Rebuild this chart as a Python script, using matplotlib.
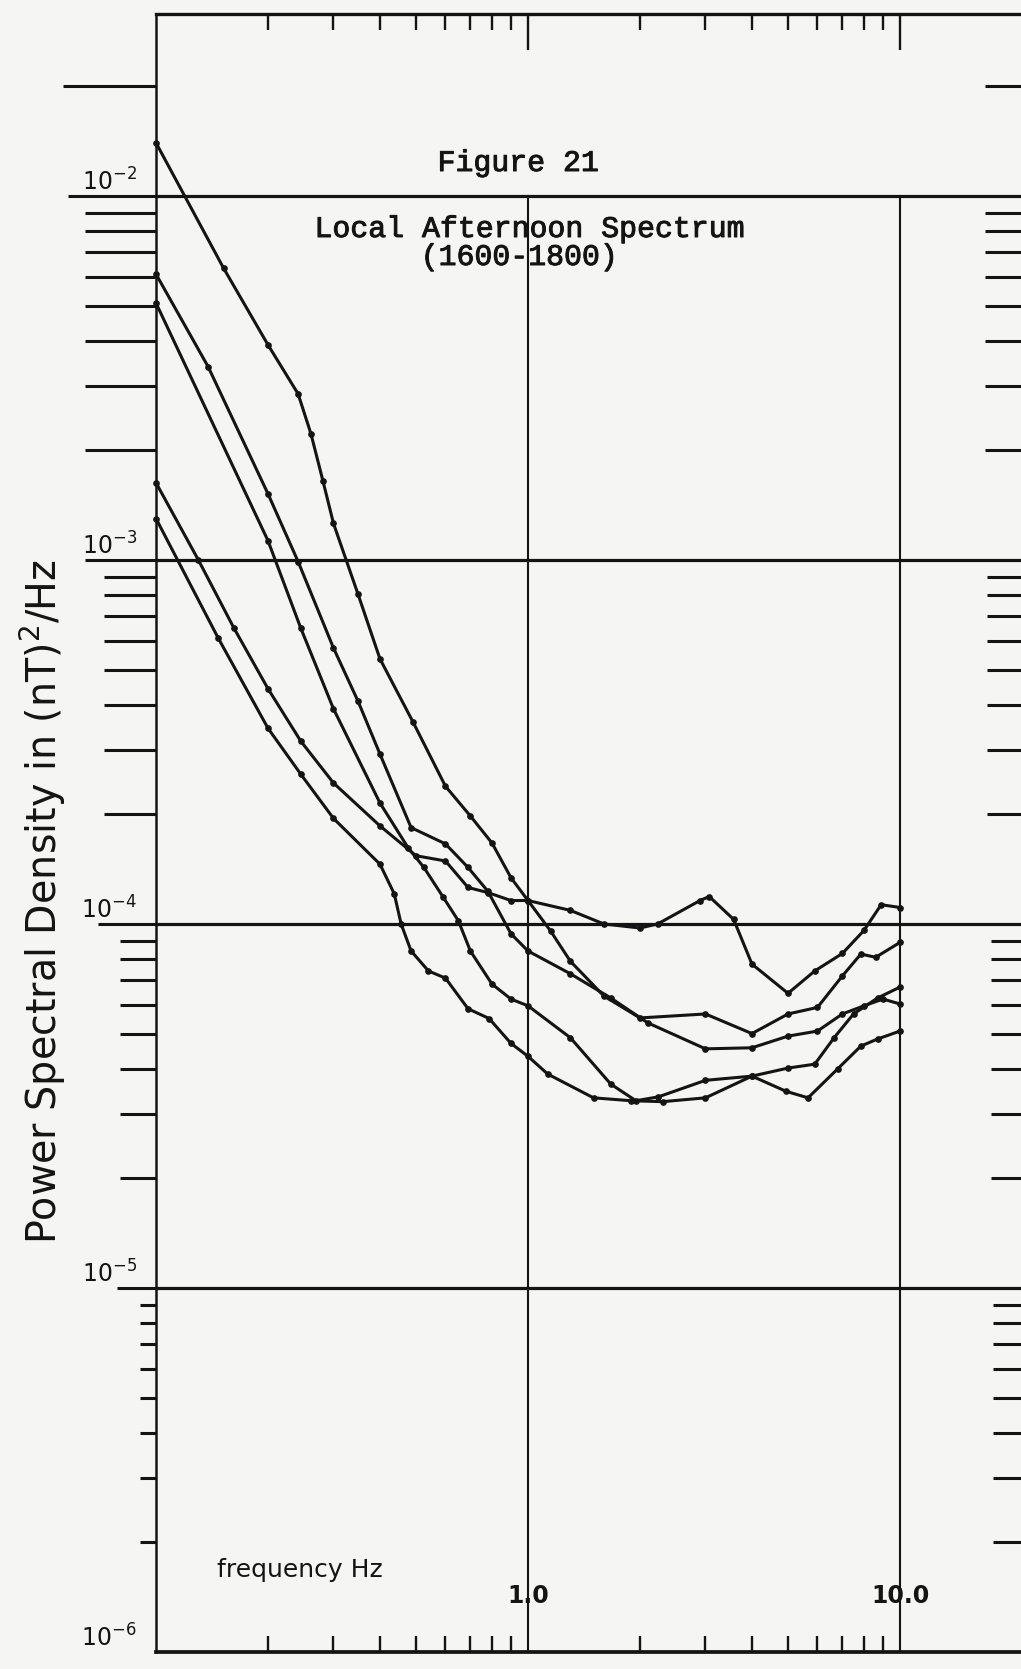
import numpy as np
import matplotlib
matplotlib.use("Agg")
import matplotlib.pyplot as plt
import matplotlib.lines as mlines
import matplotlib.transforms as mtransforms
import matplotlib.patheffects as pe
from matplotlib.ticker import FixedLocator, NullFormatter

# ---------------- data ----------------
A_freq = [0.1, 0.152, 0.2, 0.241, 0.261, 0.281, 0.3, 0.349, 0.4, 0.49, 0.6, 0.7, 0.8,
          0.9, 1.0, 1.15, 1.3, 1.6, 2.0, 3.0, 4.0, 5.0, 6.0, 7.0, 7.85, 8.6, 10.0]
A_psd = [1.40e-2, 6.33e-3, 3.9e-3, 2.86e-3, 2.22e-3, 1.65e-3, 1.26e-3, 8.07e-4, 5.35e-4,
         3.6e-4, 2.39e-4, 1.98e-4, 1.67e-4, 1.34e-4, 1.16e-4, 9.57e-5, 7.9e-5, 6.34e-5,
         5.52e-5, 5.66e-5, 5.0e-5, 5.66e-5, 5.9e-5, 7.2e-5, 8.27e-5, 8.1e-5, 8.9e-5]

B_freq = [0.1, 0.138, 0.2, 0.241, 0.3, 0.349, 0.4, 0.485, 0.6, 0.69, 0.78, 0.9, 1.0,
          1.3, 1.67, 2.1, 3.0, 4.0, 5.0, 6.0, 7.0, 8.0, 9.0, 10.0]
B_psd = [6.1e-3, 3.4e-3, 1.52e-3, 9.9e-4, 5.73e-4, 4.1e-4, 2.93e-4, 1.84e-4, 1.66e-4,
         1.43e-4, 1.23e-4, 9.4e-5, 8.43e-5, 7.3e-5, 6.26e-5, 5.35e-5, 4.54e-5, 4.57e-5,
         4.92e-5, 5.08e-5, 5.66e-5, 5.96e-5, 6.22e-5, 6.03e-5]

C_freq = [0.1, 0.2, 0.245, 0.3, 0.4, 0.476, 0.525, 0.59, 0.65, 0.7, 0.8, 0.9, 1.0,
          1.3, 1.67, 1.95, 2.24, 3.0, 4.0, 5.0, 5.9, 6.65, 7.5, 8.7, 10.0]
C_psd = [5.08e-3, 1.13e-3, 6.5e-4, 3.9e-4, 2.15e-4, 1.62e-4, 1.43e-4, 1.19e-4, 1.02e-4,
         8.43e-5, 6.84e-5, 6.22e-5, 5.96e-5, 4.87e-5, 3.63e-5, 3.27e-5, 3.35e-5, 3.72e-5,
         3.82e-5, 4.02e-5, 4.12e-5, 4.87e-5, 5.66e-5, 6.26e-5, 6.71e-5]

D_freq = [0.1, 0.13, 0.162, 0.2, 0.245, 0.3, 0.4, 0.5, 0.6, 0.69, 0.78, 0.9, 1.0, 1.3,
          1.6, 2.0, 2.23, 2.9, 3.07, 3.57, 4.0, 5.0, 5.9, 7.0, 8.0, 8.9, 10.0]
D_psd = [1.63e-3, 1.0e-3, 6.5e-4, 4.43e-4, 3.18e-4, 2.44e-4, 1.86e-4, 1.54e-4, 1.49e-4,
         1.26e-4, 1.22e-4, 1.16e-4, 1.16e-4, 1.09e-4, 1.0e-4, 9.75e-5, 1.0e-4, 1.16e-4,
         1.19e-4, 1.03e-4, 7.76e-5, 6.45e-5, 7.43e-5, 8.3e-5, 9.6e-5, 1.13e-4, 1.11e-4]

E_freq = [0.1, 0.147, 0.2, 0.245, 0.3, 0.4, 0.437, 0.456, 0.485, 0.54, 0.6, 0.69, 0.786,
          0.9, 1.0, 1.13, 1.5, 1.89, 2.3, 3.0, 4.0, 4.94, 5.66, 6.8, 7.85, 8.7, 10.0]
E_psd = [1.30e-3, 6.1e-4, 3.45e-4, 2.58e-4, 1.95e-4, 1.46e-4, 1.21e-4, 1.0e-4, 8.43e-5,
         7.43e-5, 7.1e-5, 5.85e-5, 5.5e-5, 4.7e-5, 4.33e-5, 3.87e-5, 3.33e-5, 3.27e-5,
         3.25e-5, 3.33e-5, 3.82e-5, 3.47e-5, 3.33e-5, 4.0e-5, 4.62e-5, 4.83e-5, 5.08e-5]

xtick_major = [1.0, 10.0]
xtick_labels = ["1.0", "10.0"]
x_minor = [0.2, 0.3, 0.4, 0.5, 0.6, 0.7, 0.8, 0.9, 2, 3, 4, 5, 6, 7, 8, 9]
ytick_major = [1e-6, 1e-5, 1e-4, 1e-3, 1e-2]
ytick_labels = [r"$10^{-6}$", r"$10^{-5}$", r"$10^{-4}$", r"$10^{-3}$", r"$10^{-2}$"]
y_minor = [k * 10.0 ** e for e in (-6, -5, -4, -3) for k in range(2, 10)] + [2e-2]

title_lines = ["Figure 21", "Local Afternoon Spectrum", "(1600-1800)"]
ylabel_text = "Power Spectral Density in (nT)$^2$/Hz"
xlabel_text = "frequency Hz"

# ---------------- figure ----------------
W, H, DPI = 1021, 1669, 100
fig = plt.figure(figsize=(W / DPI, H / DPI), dpi=DPI)
bg = "#f5f5f4"
ink = "#141414"
fig.patch.set_facecolor(bg)

L, R, T, B = 156, 1023, 14, 1652          # axes box in pixels
ax = fig.add_axes([L / W, 1 - B / H, (R - L) / W, (B - T) / H])
ax.set_facecolor(bg)
ax.set_xscale("log")
ax.set_yscale("log")
ax.set_xlim(0.1, 0.1 * 10 ** ((R - L) / 372.0))
ax.set_ylim(1e-6, 10 ** -1.5)

# curves
for f, v in [(A_freq, A_psd), (B_freq, B_psd), (C_freq, C_psd), (D_freq, D_psd), (E_freq, E_psd)]:
    ax.plot(f, v, color=ink, lw=2.2, marker="o", ms=3.8, mfc=ink, mec=ink,
            solid_joinstyle="round", solid_capstyle="round", zorder=3, clip_on=False)

# grid lines
for yv in ytick_major[1:]:
    ax.axhline(yv, color=ink, lw=2.3, zorder=2)
ylo, yhi = ax.get_ylim()
top_frac = (np.log10(1e-2) - np.log10(ylo)) / (np.log10(yhi) - np.log10(ylo))
for xv in xtick_major:
    ax.axvline(xv, ymin=0, ymax=top_frac, color=ink, lw=1.5, zorder=2)

# spines
ax.spines["right"].set_visible(False)
ax.spines["left"].set_linewidth(1.8)
ax.spines["top"].set_linewidth(2.4)
ax.spines["bottom"].set_linewidth(2.7)
for s in ax.spines.values():
    s.set_color(ink)

PT = 72.0 / DPI   # points per pixel

# x ticks
ax.xaxis.set_major_locator(FixedLocator(xtick_major))
ax.xaxis.set_minor_locator(FixedLocator(x_minor))
ax.xaxis.set_major_formatter(NullFormatter())
ax.xaxis.set_minor_formatter(NullFormatter())
ax.tick_params(axis="x", which="both", direction="in", top=True, bottom=True, color=ink,
               labelbottom=False)
ax.tick_params(axis="x", which="minor", length=16 * PT, width=1.7)
ax.tick_params(axis="x", which="major", length=36 * PT, width=1.7)
for t in ax.xaxis.get_major_ticks(len(xtick_major)):
    t.tick1line.set_markersize(0)

# y ticks
ax.yaxis.set_major_locator(FixedLocator(ytick_major))
ax.yaxis.set_minor_locator(FixedLocator(y_minor))
ax.yaxis.set_major_formatter(NullFormatter())
ax.yaxis.set_minor_formatter(NullFormatter())
ax.tick_params(axis="y", which="both", direction="out", left=True, right=True, color=ink,
               width=2.2)
left_major_len = {-6: 0, -5: 39, -4: 58, -3: 71, -2: 88}
left_minor_len = {-6: 16, -5: 36, -4: 52, -3: 71, -2: 93}
right_minor_len = {-6: 30, -5: 32, -4: 36, -3: 38, -2: 38}
for t, loc in zip(ax.yaxis.get_major_ticks(len(ytick_major)), ytick_major):
    d = int(np.floor(np.log10(loc) + 1e-9))
    t.tick1line.set_markersize(left_major_len[d] * PT)
    t.tick2line.set_markersize(0)
for t, loc in zip(ax.yaxis.get_minor_ticks(len(y_minor)), y_minor):
    d = int(np.floor(np.log10(loc) + 1e-9))
    t.tick1line.set_markersize(left_minor_len[d] * PT)
    t.tick2line.set_marker(mlines.TICKLEFT)
    t.tick2line.set_markersize(right_minor_len[d] * PT)

# tick labels (placed like the hand-lettered originals)
tr_y = mtransforms.blended_transform_factory(ax.transAxes, ax.transData)
for yv, lab in zip(ytick_major, ytick_labels):
    ax.text(-0.022, yv, lab, transform=tr_y, ha="right", va="bottom", fontsize=17,
            color=ink, fontfamily="DejaVu Sans")
tr_x = mtransforms.blended_transform_factory(ax.transData, ax.transAxes)
for xv, lab in zip(xtick_major, xtick_labels):
    ax.text(xv, (B - 1603) / (B - T), lab, transform=tr_x, ha="center", va="baseline",
            fontsize=17, fontweight="bold", color=ink, fontfamily="DejaVu Sans")

# titles (typewriter)
mono = ["Liberation Mono", "DejaVu Sans Mono"]
thick = [pe.withStroke(linewidth=0.7, foreground=ink)]
fig.text(518 / W, 1 - 171 / H, title_lines[0], ha="center", va="baseline", fontsize=21.5,
         family=mono, color=ink, path_effects=thick)
fig.text(529 / W, 1 - 237 / H, title_lines[1], ha="center", va="baseline", fontsize=21.5,
         family=mono, color=ink, path_effects=thick)
fig.text(519 / W, 1 - 265 / H, title_lines[2], ha="center", va="baseline", fontsize=21.5,
         family=mono, color=ink, path_effects=thick)

# axis labels (hand-lettered in the original)
fig.text(43 / W, 1 - 902 / H, ylabel_text, rotation=90, ha="center", va="center",
         fontsize=28.5, color=ink, fontfamily="DejaVu Sans")
fig.text(300 / W, 1 - 1570 / H, xlabel_text, ha="center", va="center", fontsize=18,
         color=ink, fontfamily="DejaVu Sans")

fig.savefig("out.png", dpi=DPI, facecolor=bg)
